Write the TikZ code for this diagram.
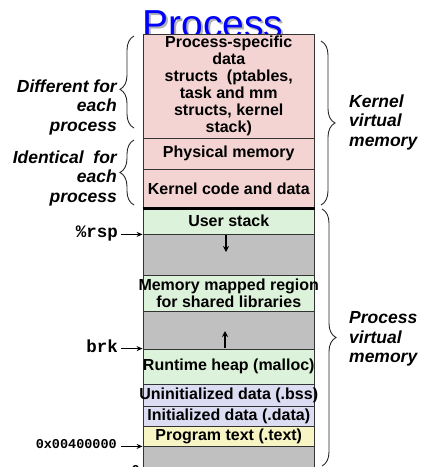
\documentclass[tikz,border=0pt]{standalone}
\usepackage{fontspec}
\setmainfont{Liberation Sans}
\setmonofont{Liberation Mono}
\usetikzlibrary{arrows.meta,decorations.pathreplacing}
\definecolor{kpink}{RGB}{244,211,211}
\definecolor{ugreen}{RGB}{221,242,218}
\definecolor{ugray}{RGB}{192,192,192}
\definecolor{ulav}{RGB}{220,220,242}
\definecolor{uyellow}{RGB}{248,245,196}
\begin{document}
\begin{tikzpicture}[x=1pt,y=-1pt,
  seg/.style={draw=black!80,line width=0.8pt,minimum width=171.5pt,inner sep=0pt},
  segtext/.style={inner sep=0pt,align=center,font=\fontsize{16}{17}\selectfont\bfseries},
  side/.style={font=\fontsize{17.5}{19.5}\selectfont\bfseries\itshape,inner sep=0pt},
  addr/.style={font=\fontsize{17.5}{18}\selectfont\ttfamily\bfseries,anchor=east,inner sep=0pt},
  saddr/.style={font=\fontsize{13.5}{14}\selectfont\ttfamily\bfseries,anchor=east,inner sep=0pt},
  ptr/.style={line width=1.1pt,-{Stealth[length=6pt,width=5pt]}},
  growarrow/.style={line width=1.6pt,-{Stealth[length=6pt,width=6pt]}},
  brc/.style={draw=black!85,line width=0.9pt,decorate,decoration={brace,amplitude=14pt}}]
\useasboundingbox (0,0) rectangle (424,467);
\clip (0,0) rectangle (424,467);

% title with a soft shadow
\node[font=\fontsize{39}{40}\selectfont,text=black!30,anchor=base,inner sep=0pt] (titleshadow) at (215,39) {Process};
\node[font=\fontsize{39}{40}\selectfont,text=blue,anchor=base,inner sep=0pt] (title) at (213,37) {Process};

% kernel part of the address space
\node[seg,fill=kpink,minimum height=104pt] (ps) at (228.75,86) {};
\node[seg,fill=kpink,minimum height=31pt] (pm) at (228.75,153.5) {};
\node[seg,fill=kpink,minimum height=39pt] (kc) at (228.75,188.5) {};

% user part of the address space
\node[seg,fill=ugreen,minimum height=26pt] (us) at (228.75,221) {};
\node[seg,fill=ugray,minimum height=41pt] (g1) at (228.75,254.5) {};
\node[seg,fill=ugreen,minimum height=36pt] (mm) at (228.75,293) {};
\node[seg,fill=ugray,minimum height=38pt] (g2) at (228.75,330) {};
\node[seg,fill=ugreen,minimum height=35pt] (rh) at (228.75,366.5) {};
\node[seg,fill=ulav,minimum height=22pt] (ud) at (228.75,395) {};
\node[seg,fill=ulav,minimum height=20pt] (id) at (228.75,416) {};
\node[seg,fill=uyellow,minimum height=20pt] (pt) at (228.75,436) {};
\node[seg,fill=ugray,minimum height=34pt] (g3) at (228.75,463) {};

% region names, free to run past the column edges
\node[segtext] (pstext) at (ps) {Process-specific\\data\\structs\ \ (ptables,\\task and mm\\structs, kernel\\stack)};
\node[segtext] (pmtext) at (pm) {Physical memory};
\node[segtext] (kctext) at (kc) {Kernel code and data};
\node[segtext] (ustext) at (us) {User stack};
\node[segtext] (mmtext) at (mm) {Memory mapped region\\for shared libraries};
\node[segtext] (rhtext) at (rh) {Runtime heap (malloc)};
\node[segtext] (udtext) at (ud) {Uninitialized data (.bss)};
\node[segtext] (idtext) at (id) {Initialized data (.data)};
\node[segtext] (pttext) at (pt) {Program text (.text)};

% kernel / user boundary
\draw[line width=2.6pt] (kc.south west) -- (kc.south east);

% growth directions of stack and heap
\coordinate (sdtop) at (226,235);
\coordinate (sdend) at (226,252);
\draw[growarrow] (sdtop) -- (sdend);
\coordinate (hubot) at (225,348);
\coordinate (hutop) at (225,331);
\draw[growarrow] (hubot) -- (hutop);

% address pointers
\node[addr] (rsp) at (118,233) {\%rsp};
\draw[ptr] (rsp.east |- us.south west) ++(3,0) -- (us.south west);
\node[addr] (brk) at (118,346) {brk};
\draw[ptr] (brk.east |- rh.north west) ++(3,0) -- (rh.north west);
\node[saddr] (base) at (117,444) {0x00400000};
\draw[ptr] (base.east |- pt.south west) ++(4,0) -- (pt.south west);
\node[saddr] (zero) at (140,470) {0};

% braces and their labels
\draw[brc,decoration={aspect=0.42}] (134,128) -- (134,36);
\draw[brc] (134,205) -- (134,140);
\draw[brc] (321,41) -- (321,205);
\draw[brc] (322,209) -- (322,466);

\node[side,align=right,anchor=east] (diff) at (117,107) {Different for\\each\\process};
\node[side,align=right,anchor=east] (ident) at (117,178) {Identical\ \ for\\each\\process};
\node[side,align=left,anchor=west] (kvm) at (349,122) {Kernel\\virtual\\memory};
\node[side,align=left,anchor=west] (pvm) at (349,339) {Process\\virtual\\memory};
\end{tikzpicture}
\end{document}
